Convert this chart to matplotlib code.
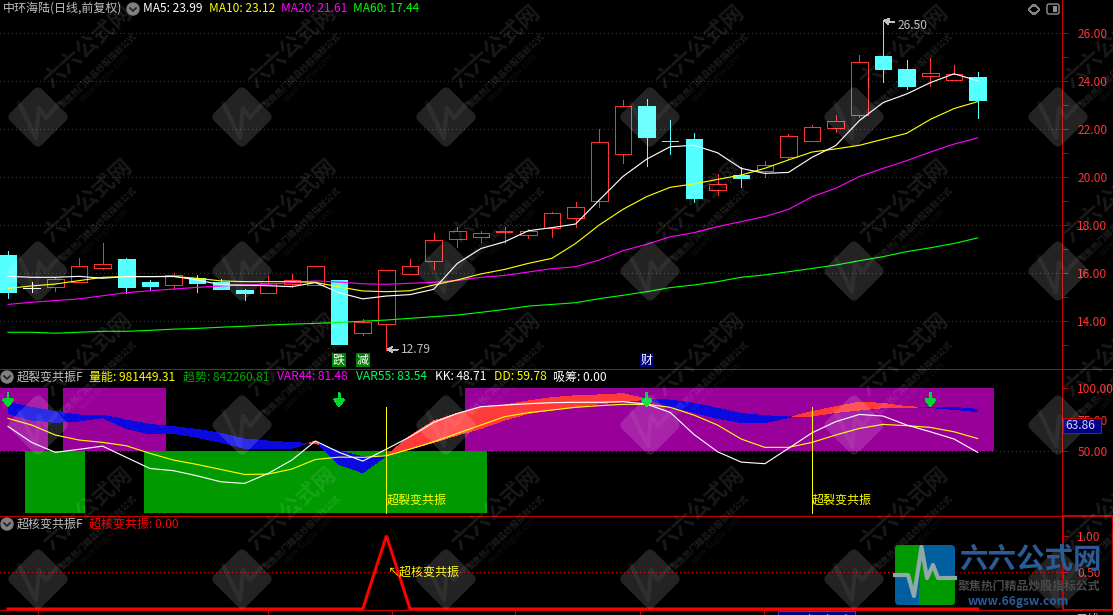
import numpy as np
import matplotlib
matplotlib.use('agg')
from matplotlib import pyplot as plt
from matplotlib.patches import FancyBboxPatch, Polygon, Rectangle
from matplotlib.ticker import FixedLocator, FormatStrFormatter
from matplotlib.transforms import Affine2D

plt.rcParams['font.family'] = ['Noto Sans CJK SC', 'DejaVu Sans']
plt.rcParams['lines.antialiased'] = False
plt.rcParams['patch.antialiased'] = False

# candles
opens = [16.73, 15.37, 15.38, 15.62, 16.20, 16.56, 15.60, 15.47, 15.76, 15.60, 15.27,
         15.13, 15.53, 15.49, 15.69, 13.50, 13.84, 15.95, 16.49, 17.38, 17.49, 17.68,
         17.55, 17.87, 18.28, 18.96, 20.95, 22.92, 21.47, 21.56, 19.45, 20.06, 20.25,
         20.83, 21.49, 22.03, 22.58, 25.02, 24.48, 24.20, 24.03, 24.15]
closes = [15.20, 15.37, 15.71, 16.26, 16.34, 15.41, 15.45, 15.88, 15.58, 15.30, 15.16,
          15.55, 15.67, 16.26, 13.04, 13.94, 16.09, 16.26, 17.34, 17.71, 17.66, 17.70,
          17.71, 18.47, 18.72, 21.42, 22.92, 21.65, 21.47, 19.10, 19.67, 19.95, 20.47,
          21.67, 22.05, 22.30, 24.76, 24.48, 23.78, 24.30, 24.26, 23.20]
highs = [16.91, 15.62, 15.80, 16.60, 17.23, 16.62, 15.69, 15.97, 15.90, 15.72, 15.30,
         15.85, 15.94, 16.26, 15.69, 14.05, 16.09, 16.56, 17.65, 17.88, 17.73, 17.91,
         17.80, 18.52, 18.94, 21.98, 23.19, 23.23, 22.35, 21.81, 20.10, 20.38, 20.65,
         21.77, 22.15, 22.56, 25.06, 26.50, 24.84, 24.92, 24.63, 24.35]
lows = [14.95, 15.20, 15.23, 15.62, 16.13, 15.16, 15.27, 15.30, 15.20, 15.30, 14.87,
        15.13, 15.38, 15.49, 13.04, 13.40, 12.79, 15.95, 16.13, 17.05, 17.28, 17.24,
        17.45, 17.49, 17.91, 18.74, 20.57, 20.45, 20.94, 18.93, 19.23, 19.58, 19.99,
        20.74, 21.49, 21.85, 22.47, 23.92, 23.63, 23.77, 24.03, 22.45]

ma5 = [15.84, 15.80, 15.80, 15.84, 15.76, 15.83, 15.83, 15.84, 15.69, 15.49, 15.47,
       15.45, 15.41, 15.58, 15.16, 14.90, 15.02, 15.08, 15.30, 16.38, 17.00, 17.28,
       17.74, 17.87, 18.02, 19.02, 20.00, 20.72, 21.24, 21.30, 20.99, 20.34, 20.13,
       20.17, 20.80, 21.29, 22.33, 23.08, 23.44, 23.91, 24.28, 23.99]
ma10 = [15.34, 15.44, 15.52, 15.66, 15.80, 15.83, 15.83, 15.83, 15.76, 15.65, 15.62,
        15.62, 15.62, 15.59, 15.40, 15.23, 15.20, 15.24, 15.48, 15.69, 15.94, 16.13,
        16.38, 16.59, 17.21, 17.98, 18.63, 19.16, 19.55, 19.69, 19.88, 20.06, 20.34,
        20.69, 21.02, 21.15, 21.30, 21.55, 21.80, 22.38, 22.83, 23.12]
ma20 = [14.67, 14.76, 14.83, 14.90, 15.03, 15.16, 15.24, 15.31, 15.38, 15.44, 15.48,
        15.51, 15.58, 15.65, 15.60, 15.53, 15.51, 15.55, 15.59, 15.67, 15.80, 15.88,
        16.02, 16.16, 16.24, 16.52, 16.91, 17.17, 17.49, 17.66, 17.91, 18.12, 18.33,
        18.63, 19.16, 19.51, 20.00, 20.34, 20.66, 21.02, 21.35, 21.61]
ma60 = [13.51, 13.51, 13.47, 13.51, 13.55, 13.55, 13.59, 13.64, 13.67, 13.72, 13.76,
        13.81, 13.85, 13.88, 13.92, 13.97, 14.02, 14.09, 14.16, 14.23, 14.34, 14.46,
        14.60, 14.67, 14.74, 14.91, 15.05, 15.20, 15.37, 15.48, 15.62, 15.80, 15.90,
        16.03, 16.17, 16.31, 16.49, 16.66, 16.87, 17.03, 17.21, 17.44]

# middle panel
var_fast = [79.9, 74.6, 72.7, 73.8, 76.5, 67.9, 63.4, 63.9, 60.7, 56.7, 51.9, 51.9,
            51.9, 57.8, 39.0, 32.4, 46.0, 61.8, 73.8, 79.9, 84.5, 86.6, 89.8, 92.5,
            94.1, 94.7, 95.7, 91.4, 85.3, 80.7, 75.9, 72.7, 72.5, 76.5, 81.3, 85.3,
            88.8, 88.0, 85.3, 84.5, 83.2, 81.3]
var_slow = [88.8, 84.8, 81.3, 78.6, 78.6, 74.6, 71.1, 69.3, 67.1, 63.9, 59.4, 57.8,
            56.4, 55.9, 49.7, 45.2, 46.0, 51.3, 56.7, 62.6, 67.9, 74.6, 79.9, 82.6,
            85.3, 87.7, 89.3, 91.4, 90.6, 88.0, 84.0, 79.9, 78.1, 77.0, 77.8, 80.7,
            82.6, 84.5, 84.8, 85.0, 84.8, 83.2]
dd = [75.9, 70.6, 62.6, 58.6, 56.7, 54.0, 47.9, 42.5, 39.0, 35.0, 31.0, 31.3, 35.3,
      43.0, 44.9, 44.7, 46.0, 51.3, 57.2, 63.9, 70.6, 77.3, 80.5, 82.6, 84.8, 86.1,
      87.2, 87.2, 84.8, 78.6, 70.6, 59.4, 52.7, 52.7, 56.7, 62.6, 67.9, 71.1, 70.1,
      68.7, 65.2, 59.78]
kk = [69.5, 56.7, 48.7, 51.1, 53.7, 44.7, 35.8, 34.0, 29.9, 25.1, 23.8, 31.8, 42.5,
      57.8, 48.7, 41.7, 51.3, 61.2, 72.7, 79.9, 85.3, 86.6, 87.7, 88.5, 88.8, 88.8,
      89.3, 87.4, 80.7, 63.1, 49.2, 40.9, 39.6, 51.9, 64.4, 73.3, 79.1, 77.8, 70.6,
      65.2, 59.4, 48.71]
purple_bars = [0, 1, 3, 4, 5, 6] + list(range(20, 42))
green_bars = [2] + list(range(7, 20))
arrow_bars = [0, 14, 27, 39]
signal_bars = [16, 34]

# bottom panel
core_signal = [0.0] * 16 + [1.0] + [0.0] * 25

bars = np.arange(len(closes))
W, H = 1113, 615
BAR_PX = 23.65
FIRST_BAR_PX = 8
AXIS_PX = 1062
RED = '#ff3232'
LINE_RED = '#c80000'
GRID_RED = '#c00000'
CYAN = '#54ffff'
GREY = '#c0c0c0'
YELLOW = '#ffff00'
DOTTED = (0, (1, 3))
PX = 0.72  # one screen pixel in points


def panel(fig, top, bottom, ylim, major, minor=()):
    """Add a chart panel between two pixel rows, with the scale on the right."""
    ax = fig.add_axes([0, 1 - bottom / H, AXIS_PX / W, (bottom - top) / H])
    ax.set_facecolor('black')
    ax.set_xlim(-FIRST_BAR_PX / BAR_PX, (AXIS_PX - FIRST_BAR_PX) / BAR_PX)
    ax.set_ylim(*ylim)
    for side in ['left', 'top', 'bottom']:
        ax.spines[side].set_visible(False)
    ax.spines['right'].set_color(LINE_RED)
    ax.spines['right'].set_linewidth(PX)
    ax.set_xticks([])
    ax.yaxis.tick_right()
    ax.yaxis.set_major_locator(FixedLocator(major))
    ax.yaxis.set_major_formatter(FormatStrFormatter('%.2f'))
    ax.yaxis.set_minor_locator(FixedLocator(list(minor)))
    ax.tick_params(axis='y', which='major', colors=RED, labelsize=8.64, length=4,
                   width=PX, pad=7, color=LINE_RED)
    ax.tick_params(axis='y', which='minor', length=4, width=PX, color=LINE_RED)
    return ax


def draw_candles(ax):
    for i in bars:
        up = closes[i] > opens[i]
        flat = abs(closes[i] - opens[i]) < 0.03
        color = RED if up else CYAN
        if i == 1:
            color = 'white'
        ax.vlines(i, lows[i], highs[i], color=color, lw=PX, zorder=3)
        if flat:
            ax.hlines(opens[i], i - 0.35, i + 0.35, color=color,
                      lw=2 * PX if i == 21 else PX, zorder=3)
        elif up:
            ax.add_patch(Rectangle((i - 0.35, opens[i]), 0.7, closes[i] - opens[i],
                                   facecolor='black', edgecolor=color, lw=PX, zorder=3))
        else:
            ax.add_patch(Rectangle((i - 0.35, closes[i]), 0.7, opens[i] - closes[i],
                                   facecolor=color, edgecolor=color, lw=PX, zorder=3))


def draw_watermark(ov, cx, cy):
    box = FancyBboxPatch((cx - 22.5, cy - 22.5), 45, 45,
                         boxstyle='round,pad=0,rounding_size=6', facecolor='white',
                         edgecolor='none', alpha=0.14, antialiased=True,
                         transform=Affine2D().rotate_deg_around(cx, cy, 45) + ov.transData)
    ov.add_patch(box)
    wave_x = np.array([-19, -2, 1, 8, 21]) + cx
    wave_y = np.array([-14, 21, -9, 1, -14]) + cy
    ov.plot(wave_x, wave_y, color='white', alpha=0.06, lw=3, antialiased=True)
    ov.text(cx + 8, cy - 33, '六六公式网', color='white', alpha=0.1, fontsize=16,
            fontweight='bold', rotation=42, rotation_mode='anchor', va='center')
    ov.text(cx + 23, cy - 11, '聚焦热门精品炒股指标公式', color='white', alpha=0.12,
            fontsize=6.2, fontweight='bold', rotation=44, rotation_mode='anchor', va='center')
    ov.text(cx + 43, cy - 16, 'www.66gsw.com', color='white', alpha=0.07, fontsize=6,
            rotation=44, rotation_mode='anchor', va='center')


def draw_logo(ov):
    base = FancyBboxPatch((895, 545), 60, 60, boxstyle='round,pad=0,rounding_size=4',
                          facecolor='#005f9e', edgecolor='none', antialiased=True, zorder=5)
    ov.add_patch(base)
    tl = [(895, 545), (921.7, 545), (913.3, 595), (908.3, 575), (895, 575)]
    br = [(921.7, 547), (926.7, 578), (933.3, 565), (938.3, 578), (955, 578), (955, 605),
          (919.3, 605)]
    for pts in [tl, br]:
        piece = Polygon(pts, facecolor='#009a00', edgecolor='none', zorder=5)
        ov.add_patch(piece)
        piece.set_clip_path(base)
    ov.plot([895, 908, 914, 921.5, 927, 933, 938, 955],
            [575, 575, 596, 547, 578, 565, 578, 578], color='#8fa8a8', lw=3, zorder=5,
            antialiased=True)
    ov.text(959, 560, '六六公式网', color='#2b5a96', fontsize=20.5, fontweight='bold',
            va='center', zorder=5)
    ov.text(958, 586, '聚焦热门精品炒股指标公式', color='#4a4a4a', fontsize=8.6,
            fontweight='bold', va='center', zorder=5)
    ov.text(968, 601, 'www.66gsw.com', color='#2b5a96', fontsize=8.6, fontweight='bold',
            va='center', zorder=5)


def draw_header_icon(ov, x, y):
    ov.add_patch(plt.Circle((x, y), 6, color='#808080', antialiased=True, zorder=6))
    ov.plot([x - 3, x, x + 3], [y - 1, y + 2, y - 1], color='#202020', lw=1.2, zorder=6,
            antialiased=True)


fig = plt.figure(figsize=(W / 100, H / 100), dpi=100, facecolor='black')

# price panel
ax1 = panel(fig, 0, 369, (26 - 336.5 / 24, 26 + 32.5 / 24), list(range(14, 27, 2)),
            list(range(13, 27, 2)))
for level in range(14, 27, 2):
    ax1.axhline(level, color=GRID_RED, lw=PX, ls=DOTTED, zorder=1)
draw_candles(ax1)
for series, color in [(ma60, '#00ff00'), (ma20, '#ff00ff'), (ma10, YELLOW), (ma5, 'white')]:
    ax1.plot(bars, series, color=color, lw=PX * 1.15, antialiased=True, zorder=4)
ax1.annotate('26.50', xy=(37, 26.5), xytext=(37.6, 26.3), color=GREY, fontsize=8.64,
             va='center', arrowprops=dict(arrowstyle='->', color=GREY, lw=PX, shrinkA=0, shrinkB=0))
ax1.annotate('12.79', xy=(16, 12.79), xytext=(16.6, 12.79), color=GREY, fontsize=8.64,
             va='center', arrowprops=dict(arrowstyle='->', color=GREY, lw=PX, shrinkA=0, shrinkB=0))
for i, word, back in [(14, '跌', '#008000'), (15, '减', '#008000'), (27, '财', '#000080')]:
    ax1.text(i, 12.35, word, color='white', fontsize=8.64, ha='center', va='center',
             zorder=6, bbox=dict(facecolor=back, edgecolor='none', pad=0.6))

# indicator panel
ax2 = panel(fig, 369, 515, (-1.5, 115.5), [50, 75, 100])
ax2.axhline(50, color=GRID_RED, lw=PX, ls=DOTTED, zorder=1)
ax2.bar(purple_bars, [50] * len(purple_bars), bottom=50, width=32 / BAR_PX,
        color='#990099', linewidth=0, zorder=2)
ax2.bar(green_bars, [50] * len(green_bars), width=60 / BAR_PX, color='#009900',
        linewidth=0, zorder=2)
fast = np.array(var_fast)
slow = np.array(var_slow)
ax2.fill_between(bars, fast, slow, where=fast >= slow, interpolate=True, color='#ff3a3a',
                 linewidth=0, zorder=3)
ax2.fill_between(bars, fast, slow, where=fast <= slow, interpolate=True, color='#0a0ae0',
                 linewidth=0, zorder=3)
ax2.plot(bars, dd, color=YELLOW, lw=PX * 1.15, antialiased=True, zorder=4)
ax2.plot(bars, kk, color='white', lw=PX * 1.15, antialiased=True, zorder=4)
for i in arrow_bars:
    ax2.annotate('', xy=(i, 85), xytext=(i, 96), zorder=5,
                 arrowprops=dict(arrowstyle='-|>,head_width=0.3,head_length=0.4',
                                 color='#00d830', lw=1.4, shrinkA=0, shrinkB=0))
for i in signal_bars:
    ax2.vlines(i, 0, 85, color=YELLOW, lw=PX, zorder=5)
    ax2.text(i, 10.5, '超裂变共振', color=YELLOW, fontsize=8.64, va='center', zorder=5)

# core signal panel
ax3 = panel(fig, 516, 609, (0, 93 / 73.3), [0.5, 1.0])
ax3.axhline(0.5, color=GRID_RED, lw=PX, ls=DOTTED, zorder=1)
ax3.plot(bars, core_signal, color='#ff0000', lw=2.2, clip_on=False, zorder=4,
         antialiased=True, solid_joinstyle='miter')
ax3.text(16.05, 0.5, '↖超核变共振', color=YELLOW, fontsize=8.64, va='center', zorder=5)

# everything that is screen furniture goes on a pixel overlay
ov = fig.add_axes([0, 0, 1, 1], zorder=10)
ov.set_xlim(0, W)
ov.set_ylim(H, 0)
ov.axis('off')

for cy in [-37, 117, 271, 425, 579]:
    for cx in [38, 242, 446, 650, 854, 1058]:
        draw_watermark(ov, cx, cy)

for y in [368.5, 515.5]:
    ov.plot([0, W], [y, y], color=LINE_RED, lw=PX)
ov.plot([0, W], [609.5, 609.5], color=LINE_RED, lw=PX)
ov.add_patch(Rectangle((1063, 515.5), 50, 94, facecolor='none', edgecolor=LINE_RED, lw=1.4))

# crosshair read-out on the middle scale
ov.add_patch(Rectangle((1063, 418), 38, 15, facecolor='#000080', edgecolor=LINE_RED, lw=PX))
ov.text(1065, 425.5, '63.86', color='#d0d0ff', fontsize=8.64, va='center')

# time strip, only the top of it is inside the picture
for x in [38, 268, 392, 515, 640, 764]:
    ov.plot([x, x], [610, 615], color=LINE_RED, lw=PX)
ov.add_patch(Rectangle((778, 611), 77, 8, facecolor='#000080', edgecolor='#4040c0', lw=PX))
ov.text(780, 620, '2025/05/07/三', color='white', fontsize=8.64, va='center')
ov.text(10, 620, '2025', color=RED, fontsize=8.64, va='center')
ov.text(1076, 620, '日线', color=GREY, fontsize=8.64, va='center')

draw_logo(ov)

# legends
header_1 = [(3, '中环海陆(日线,前复权)', GREY), (143, 'MA5: 23.99', 'white'),
            (209, 'MA10: 23.12', YELLOW), (281, 'MA20: 21.61', '#ff00ff'),
            (353, 'MA60: 17.44', '#00ff00')]
header_2 = [(17, '超裂变共振F', GREY), (89, '量能: 981449.31', YELLOW),
            (183, '趋势: 842260.81', '#00a800'), (277, 'VAR44: 81.48', '#ff00ff'),
            (356, 'VAR55: 83.54', '#00ff60'), (435, 'KK: 48.71', 'white'),
            (494, 'DD: 59.78', YELLOW), (553, '吸筹: 0.00', 'white')]
header_3 = [(17, '超核变共振F', GREY), (89, '超核变共振: 0.00', '#ff0000')]
for y, row in [(8.5, header_1), (377, header_2), (524, header_3)]:
    for x, label, color in row:
        ov.text(x, y, label, color=color, fontsize=8.64, va='center', zorder=6)
draw_header_icon(ov, 133, 9)
draw_header_icon(ov, 7, 377)
draw_header_icon(ov, 7, 524)

# view icons top right
ov.add_patch(Polygon([(1034, 4.5), (1039.5, 9.5), (1034, 14.5), (1028.5, 9.5)],
                     facecolor='none', edgecolor='#808080', lw=PX))
ov.add_patch(FancyBboxPatch((1047, 4), 12, 10, boxstyle='round,pad=0,rounding_size=2',
                            facecolor='none', edgecolor='#909090', lw=1, antialiased=True))
ov.add_patch(Rectangle((1053, 6), 4, 6, facecolor='#909090', edgecolor='none'))

plt.savefig('out.png', dpi=100, facecolor='black')
plt.close()
